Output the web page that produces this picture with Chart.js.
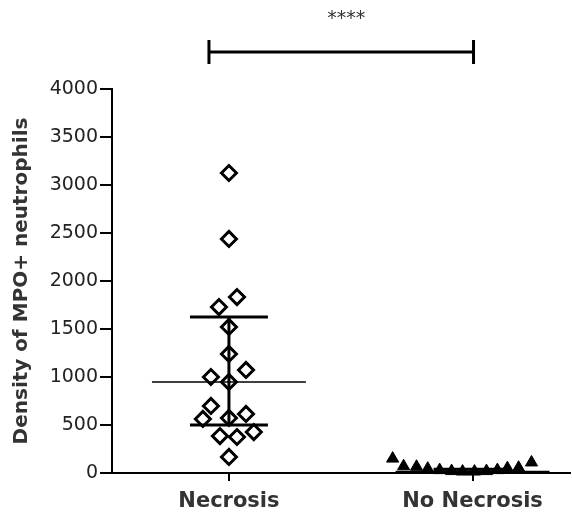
<!DOCTYPE html>
<html><head><meta charset="utf-8">
<script src="https://cdn.jsdelivr.net/npm/chart.js@4/dist/chart.umd.min.js"></script>
<style>html,body{margin:0;padding:0;background:#fff;} canvas{display:block;}</style>
</head><body>
<canvas id="c" width="572" height="515"></canvas>
<script>
const categories = ['Necrosis', 'No Necrosis'];
const necrosisValues = [3125, 2438, 1833, 1729, 1521, 1240, 1073, 1000, 948, 698, 615, 563, 573, 427, 385, 375, 167];
const necrosisJitter = [0, 0, 0.033, -0.041, 0, 0, 0.07, -0.074, 0, -0.074, 0.07, -0.107, 0, 0.102, -0.037, 0.033, 0];
const noNecrosisValues = [150, 70, 65, 45, 30, 20, 15, 15, 20, 30, 50, 55, 110];
const noNecrosisJitter = [-0.328, -0.283, -0.230, -0.184, -0.135, -0.086, -0.041, 0.008, 0.057, 0.102, 0.143, 0.189, 0.242];
const medians = [948, 15];
const q1s = [500, 10];
const q3s = [1625, 40];
const yTicks = [0, 500, 1000, 1500, 2000, 2500, 3000, 3500, 4000];
const yTitle = 'Density of MPO+ neutrophils';
const sigLabel = '****';

const MED_HALF = 0.316, CAP_HALF = 0.16;
const lineDs = [];
categories.forEach((c, i) => {
  const x = i + 1;
  lineDs.push({ data: [{x: x - MED_HALF, y: medians[i]}, {x: x + MED_HALF, y: medians[i]}], showLine: true, pointRadius: 0, borderColor: '#000', borderWidth: 1.5, order: 0 });
  lineDs.push({ data: [{x: x - CAP_HALF, y: q3s[i]}, {x: x + CAP_HALF, y: q3s[i]}], showLine: true, pointRadius: 0, borderColor: '#000', borderWidth: 3, order: 0 });
  lineDs.push({ data: [{x: x - CAP_HALF, y: q1s[i]}, {x: x + CAP_HALF, y: q1s[i]}], showLine: true, pointRadius: 0, borderColor: '#000', borderWidth: 3, order: 0 });
  lineDs.push({ data: [{x: x, y: q1s[i]}, {x: x, y: q3s[i]}], showLine: true, pointRadius: 0, borderColor: '#000', borderWidth: 3, order: 0 });
});

const fixRightPlugin = {
  id: 'fixRight',
  afterLayout(chart) {
    const xs = chart.scales.x;
    const R = chart.width - 2;
    chart.chartArea.right = R;
    chart.chartArea.width = R - chart.chartArea.left;
    xs.right = R;
    xs.width = R - xs.left;
    xs.configure();
  }
};

const sigPlugin = {
  id: 'sig',
  afterDraw(chart, args, opts) {
    const ctx = chart.ctx, xs = chart.scales.x;
    const x1 = xs.getPixelForValue(opts.from), x2 = xs.getPixelForValue(opts.to);
    const y = opts.y;
    ctx.save();
    ctx.strokeStyle = '#000';
    ctx.lineWidth = 3;
    ctx.beginPath();
    ctx.moveTo(x1, y); ctx.lineTo(x2, y);
    ctx.moveTo(x1, y - 12); ctx.lineTo(x1, y + 12);
    ctx.moveTo(x2, y - 12); ctx.lineTo(x2, y + 12);
    ctx.stroke();
    ctx.fillStyle = '#333';
    ctx.font = '19px "DejaVu Sans"';
    ctx.textAlign = 'center';
    ctx.textBaseline = 'middle';
    ctx.fillText(opts.label, (x1 + x2) / 2 + 5, 19);
    ctx.restore();
  }
};

new Chart(document.getElementById('c'), {
  type: 'scatter',
  data: {
    datasets: [
      ...lineDs,
      { data: necrosisValues.map((v, i) => ({x: 1 + necrosisJitter[i], y: v})), pointStyle: 'rectRot', pointRadius: 7.5, borderWidth: 3, borderColor: '#000', backgroundColor: '#fff', clip: false, order: 1 },
      { data: noNecrosisValues.map((v, i) => ({x: 2 + noNecrosisJitter[i], y: v})), pointStyle: 'triangle', pointRadius: 7, borderWidth: 1, borderColor: '#000', backgroundColor: '#000', clip: false, order: 1 }
    ]
  },
  options: {
    responsive: false,
    animation: false,
    devicePixelRatio: 1,
    layout: { padding: { top: 89, right: 2, left: 0, bottom: 0 } },
    plugins: {
      legend: { display: false },
      tooltip: { enabled: false },
      sig: { from: 0.918, to: 2.004, y: 52, label: sigLabel }
    },
    scales: {
      x: {
        type: 'linear', min: 0.52, max: 2.40,
        afterBuildTicks: s => { s.ticks = categories.map((c, i) => ({value: i + 1})); },
        afterFit: s => { s.height = 42; s.paddingLeft = 0; s.paddingRight = 0; },
        ticks: { callback: v => categories[Math.round(v) - 1], font: { family: 'DejaVu Sans', size: 21, weight: 'bold' }, color: '#333', padding: 8, maxRotation: 0, autoSkip: false },
        grid: { drawOnChartArea: false, drawTicks: true, tickLength: 8, color: '#000', lineWidth: 2 },
        border: { color: '#000', width: 2 }
      },
      y: {
        min: 0, max: 4000,
        afterBuildTicks: s => { s.ticks = yTicks.map(v => ({value: v})); },
        afterFit: s => { s.width = 112; s.paddingTop = 0; s.paddingBottom = 0; },
        ticks: { callback: v => String(v), font: { family: 'DejaVu Sans', size: 19 }, color: '#222', padding: 2 },
        grid: { drawOnChartArea: false, drawTicks: true, tickLength: 12, color: '#000', lineWidth: 2 },
        border: { color: '#000', width: 2 },
        title: { display: true, text: yTitle, font: { family: 'DejaVu Sans', size: 20, weight: 'bold' }, color: '#333', padding: { top: 10, bottom: 0 } }
      }
    }
  },
  plugins: [fixRightPlugin, sigPlugin]
});
</script>
</body></html>
